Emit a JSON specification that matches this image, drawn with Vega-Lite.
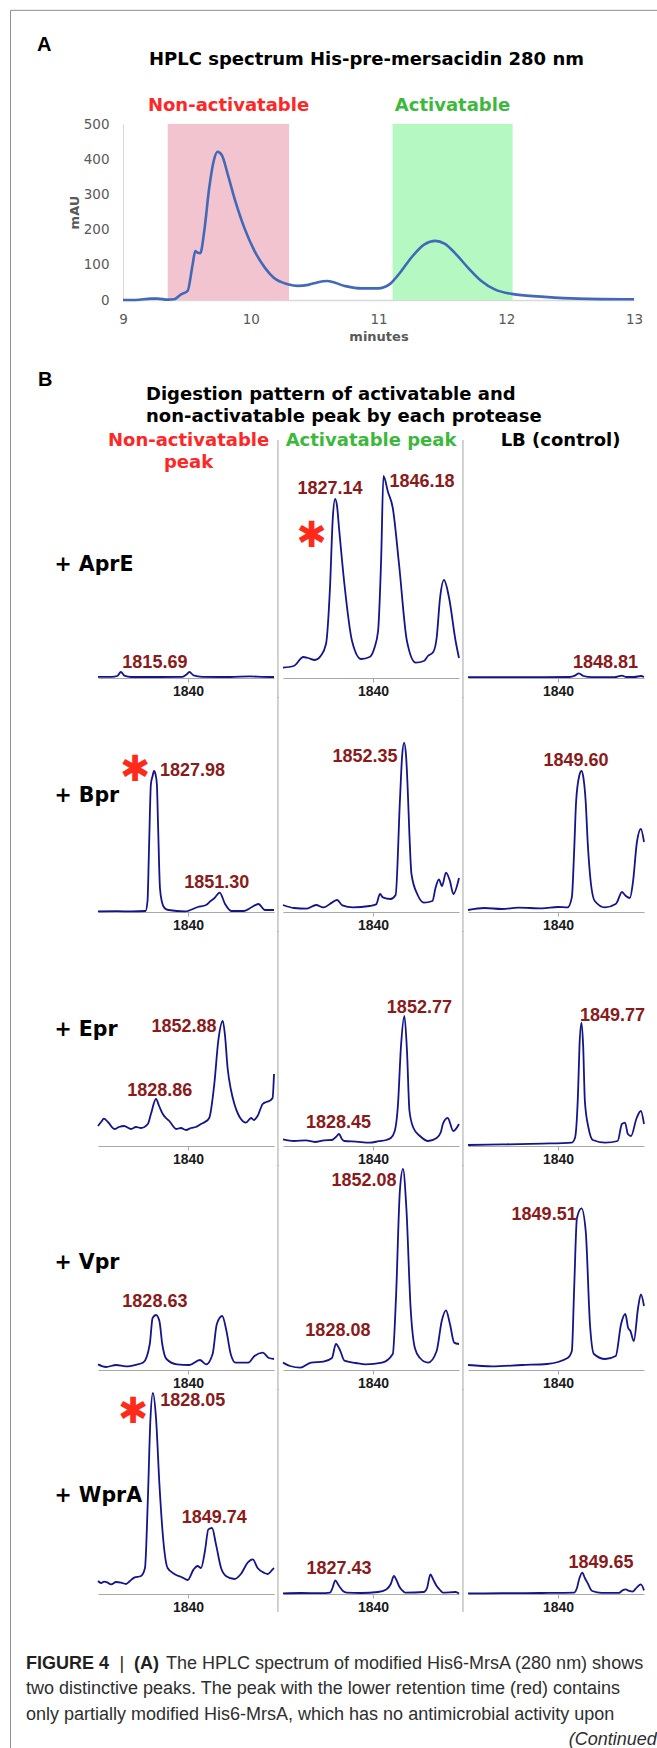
{
"$schema":"https://vega.github.io/schema/vega-lite/v6.json",
"usermeta":{"embedOptions":{"actions":false}},
"background":"white",
"padding":{"left":9,"top":9,"right":0,"bottom":0},
"autosize":{"type":"pad"},
"bounds":"flush",
"spacing":19,
"config":{"view":{"stroke":null},"axis":{"grid":false}},
"datasets":{
"hplc":[{"min":[9.0,9.1,9.22,9.27,9.35,9.4,9.454,9.506,9.545,9.566,9.584,9.605,9.636,9.675,9.71,9.74,9.773,9.82,9.871,9.95,10.03,10.11,10.18,10.29,10.37,10.45,10.52,10.6,10.735,10.865,10.996,11.088,11.126,11.178,11.256,11.36,11.445,11.517,11.597,11.7,11.805,11.91,12.066,12.3,12.56,13.0],
"mAU":[0,0,4,4,1,2,16,26,101,139,134,133,196,319,395,421,412,357,291,205,139,92,63,45,40,43,50,54,40,33,33,45,59,82,120,158,168,160,134,92,54,30,16,9,4,2]}],
"regions":[{"region":"Non-activatable","start":9.35,"end":10.3,"mid":9.826},{"region":"Activatable","start":11.11,"end":12.05,"mid":11.579}],
"ms":[
{"cell":"AN","mz":[1808.2,1813,1815,1816.3,1817.5,1820,1830,1838,1839.5,1840.5,1842,1845,1855,1862,1866,1870.4],"int":[0.6,0.6,1.0,3.0,1.2,0.5,0.5,0.6,1.8,3.0,1.3,0.6,0.5,0.8,0.6,0.5]},
{"cell":"AA","mz":[1808.2,1812,1815.4,1817,1819.5,1821.5,1823.4,1824.8,1825.8,1826.6,1827.3,1828.0,1829.9,1832.6,1835.8,1838.8,1840.5,1841.8,1842.9,1843.7,1845.3,1847.0,1849.2,1852.0,1855.1,1858.0,1859.4,1861.3,1862.5,1863.7,1865.1,1866.9,1869.2,1870.4],"int":[5.2,6,10.5,10,9,11,17,45,80,89.5,86,75,47,18.5,9.5,10.5,15,23.5,60,101,93,85,57,18.5,7.7,8.5,11,13,20,40,49,40,18.5,10]},
{"cell":"AL","mz":[1808.2,1830,1844,1846,1847.4,1849,1852,1860,1862.6,1864,1867,1869.3,1870.4],"int":[0.4,0.4,0.5,1.2,2.3,1.0,0.4,0.4,1.2,0.5,0.5,1.0,0.5]},
{"cell":"BN","mz":[1808.2,1815,1820,1825.0,1825.7,1826.2,1826.9,1827.5,1828.0,1828.5,1829.0,1829.4,1830.1,1830.8,1831.7,1833.1,1838.9,1843.5,1846.4,1848.0,1849.4,1851.2,1853.1,1855.3,1859.8,1862.6,1864.9,1867.2,1870.4],"int":[0.3,0.4,0.3,0.5,5.5,30,64,68,70.5,69,64,45,12,5,2,1,0.3,2.5,3.5,5.5,7,9.7,4,0.5,0.5,2.5,4,1,1]},
{"cell":"BA","mz":[1808.2,1812.1,1816.6,1819.9,1822.5,1825.5,1827.3,1829.2,1832.9,1838.8,1841.1,1842.5,1843.5,1846.2,1848.0,1849.5,1850.3,1851.0,1851.7,1852.2,1852.9,1853.6,1855.8,1858.0,1861.0,1862.1,1863.3,1864.4,1865.8,1867.2,1868.4,1870.4],"int":[3.5,2,1.7,3.5,2.3,4.7,6,3.3,2.3,3,3.8,9,7.3,6.5,8.5,55,78,84.7,78,64,38,19,8.5,4.7,5.5,12,16.3,13,19.7,15.5,9,17]},
{"cell":"BL","mz":[1808.2,1814,1820.2,1826,1834.4,1840,1843.4,1844.9,1845.7,1846.4,1847.5,1848.3,1849.1,1849.8,1850.5,1851.3,1853.0,1856.6,1860.4,1860.9,1862.6,1864.0,1865.4,1866.5,1867.9,1869.3,1870.4],"int":[1,2,1.5,2.2,1.8,2.5,2.3,7.3,30,55,68,70.5,66,55,35,19,5.5,2.3,4,5,10,8,7,15,35,41.5,35]},
{"cell":"EN","mz":[1808.2,1809.3,1810.3,1811.7,1814.0,1815.6,1817.4,1819.9,1821.6,1823.4,1825.8,1826.9,1828.7,1829.8,1831.1,1832.2,1833.4,1834.7,1835.8,1837.5,1839.3,1841.1,1842.8,1844.6,1846.0,1847.5,1849.3,1850.7,1852.3,1853.1,1854.0,1855.2,1856.4,1857.7,1858.7,1860.5,1862.3,1863.3,1864.6,1866.4,1867.6,1868.7,1869.9,1870.4],"int":[10,12,13.7,12,8.5,9.5,10,8.5,9.5,9,11,16,23.5,20,16,14,12.5,10,8.5,9,8,9,9.5,11,12,14,31,52.5,62.5,55,39,28,21,16,13.5,11.7,14,13,15,21,22,22.5,24,36]},
{"cell":"EA","mz":[1808.2,1812.1,1816.3,1819.5,1822.7,1825.5,1826.9,1828.0,1829.0,1829.9,1834.0,1838.8,1842.1,1844.7,1846.3,1847.7,1848.8,1849.9,1851.1,1852.0,1852.9,1854.3,1856.6,1859.5,1862.5,1864.0,1864.7,1866.4,1868.4,1870.4],"int":[3.3,2.5,2.8,2,2.8,3,4.5,6,3.5,2.5,2.2,1.7,2.4,3,4,7.5,20,50,65,48,17.5,9,5,2.5,4,7,11,14,7.5,11]},
{"cell":"EL","mz":[1808.2,1820.2,1834.4,1844.9,1846.0,1847.1,1847.6,1848.3,1848.9,1849.5,1850.8,1852.3,1856.7,1861.1,1862.6,1863.7,1864.7,1865.8,1867.8,1869.3,1870.4],"int":[0.5,0.8,1.2,1.7,4,27,50,61.7,50,22.5,9,3,1.7,2.5,11,11.7,6,5,14,17.5,11]},
{"cell":"VN","mz":[1808.2,1811.0,1814.6,1818.1,1821.6,1824.2,1826.5,1827.5,1828.7,1829.9,1830.9,1832.4,1836.1,1840.5,1844.2,1846.4,1848.7,1850.2,1852.1,1853.6,1855.1,1856.8,1861.3,1863.5,1866.4,1868.6,1870.4],"int":[2.8,1.5,2.5,1.8,2.6,3.7,13,26,27.5,24.5,13,5.5,2.8,2.5,5,2.8,8,23,27,19.5,8,3.7,3.7,7,8.7,6,5.5]},
{"cell":"VA","mz":[1808.2,1810.7,1814.4,1818.1,1822.5,1825.5,1826.9,1828.4,1829.9,1834.0,1837.4,1843.2,1847.0,1848.1,1849.5,1850.6,1851.8,1853.3,1854.8,1856.6,1859.5,1862.5,1864.3,1865.8,1867.2,1868.7,1870.4],"int":[3.7,2,1.2,3.7,4.2,6,13,9.7,4.7,3.5,2.8,3.7,8,35,89.5,100.5,81,31,11,6,3.7,9.5,24.5,29.8,23,13.7,13]},
{"cell":"VL","mz":[1808.2,1816.7,1827.3,1836.1,1843.4,1844.9,1845.7,1846.7,1848.3,1849.8,1851.3,1852.7,1856.7,1860.4,1862.3,1863.8,1864.8,1865.6,1866.8,1868.3,1869.3,1870.4],"int":[2.5,1.8,2.5,3,6,9.5,40,76,80.8,69.5,23,8,5.5,7,23,28,21,19.5,14.5,31,37.8,32]},
{"cell":"WN","mz":[1808.2,1809.3,1810.4,1811.6,1812.8,1814.6,1816.3,1818.1,1819.5,1821.0,1823.4,1824.8,1825.8,1826.7,1827.6,1828.7,1829.9,1831.3,1832.8,1835.2,1838.1,1839.9,1842.0,1843.4,1844.6,1846.0,1847.2,1848.5,1849.9,1851.7,1853.4,1856.4,1858.7,1861.1,1862.9,1864.6,1867.0,1868.2,1869.9,1870.4],"int":[6.5,5.5,6.2,5.7,4.8,6,5.7,5,6.5,8.2,9,13,46.5,86.5,100.5,88,55,26.5,13,10,8.2,7,12.3,14,13,21.5,32.3,33,24.8,13,9,7.5,10,15.7,17.3,13,10.5,10,12.3,13]},
{"cell":"WA","mz":[1808.2,1814.6,1821.6,1824.8,1825.7,1826.7,1827.6,1828.4,1829.4,1830.7,1835.8,1841.8,1844.7,1846.3,1847.4,1848.3,1849.2,1850.2,1851.4,1858.0,1859.1,1860.3,1861.2,1862.5,1863.7,1864.7,1869.2,1870.4],"int":[0.3,0.5,0.4,0.7,3,6.8,5,3.2,1.5,0.7,0.5,1,2.3,5,9,7,4,2,0.7,1,3,9.8,7.5,4,2,0.7,1,0.3]},
{"cell":"WL","mz":[1808.2,1820.2,1834.4,1845.7,1846.7,1847.6,1848.6,1849.5,1850.4,1852.1,1855.5,1861.6,1862.8,1863.9,1865.1,1866.3,1867.8,1869.3,1870.4],"int":[0.3,0.4,0.5,0.7,3,8,10.7,8,5.7,1.5,0.6,0.6,1.8,2.3,1.6,1.2,3.2,4.8,1.8]}
],
"peaks":[
{"cell":"AN","mz":1828.3,"int":7.5,"label":"1815.69"},
{"cell":"AA","mz":1824.8,"int":94.5,"label":"1827.14"},
{"cell":"AA","mz":1857.3,"int":98,"label":"1846.18"},
{"cell":"AL","mz":1856.8,"int":7.5,"label":"1848.81"},
{"cell":"BN","mz":1841.6,"int":70.5,"label":"1827.98"},
{"cell":"BN","mz":1850.2,"int":14.7,"label":"1851.30"},
{"cell":"BA","mz":1837.2,"int":77.5,"label":"1852.35"},
{"cell":"BL","mz":1846.4,"int":75.5,"label":"1849.60"},
{"cell":"EN","mz":1830.0,"int":27.5,"label":"1828.86"},
{"cell":"EN","mz":1838.6,"int":59.5,"label":"1852.88"},
{"cell":"EA","mz":1856.4,"int":69,"label":"1852.77"},
{"cell":"EA","mz":1827.8,"int":11.3,"label":"1828.45"},
{"cell":"EL","mz":1859.3,"int":65,"label":"1849.77"},
{"cell":"VN","mz":1828.3,"int":34,"label":"1828.63"},
{"cell":"VA","mz":1836.8,"int":94.5,"label":"1852.08"},
{"cell":"VA","mz":1827.6,"int":19.5,"label":"1828.08"},
{"cell":"VL","mz":1835.1,"int":77.5,"label":"1849.51"},
{"cell":"WN","mz":1841.7,"int":96.5,"label":"1828.05"},
{"cell":"WN","mz":1849.3,"int":37.8,"label":"1849.74"},
{"cell":"WA","mz":1828.0,"int":12.3,"label":"1827.43"},
{"cell":"WL","mz":1855.2,"int":15.7,"label":"1849.65"}
],
"stars":[{"cell":"AA","mz":1818.3,"int":71},{"cell":"BN","mz":1821.3,"int":71},{"cell":"WN","mz":1820.6,"int":91}]
},
"vconcat":[
{"width":546,"height":176,
 "title":{"text":"HPLC spectrum His-pre-mersacidin 280 nm","font":"DejaVu Sans","fontWeight":"bold","fontSize":18,"color":"#000","anchor":"middle","frame":"group","dx":-4.5,"offset":-34,"limit":1000},
 "layer":[
  {"data":{"name":"regions"},"mark":{"type":"rect"},
   "encoding":{
    "x":{"field":"start","type":"quantitative","scale":{"domain":[9,13],"range":[25,536],"nice":false,"zero":false},
     "axis":{"values":[9,10,11,12,13],"format":"d","labelOverlap":false,"title":"minutes","titleFont":"DejaVu Sans","titleFontWeight":"bold","titleFontSize":13,"titleColor":"#595959","titlePadding":4,"labelFont":"DejaVu Sans","labelFontSize":13.5,"labelColor":"#595959","labelPadding":12.5,"ticks":false,"tickSize":0,"domainColor":"#d9d9d9","domainWidth":1.5,"labelFlush":false,"grid":false}},
    "x2":{"field":"end"},
    "y":{"datum":0,"type":"quantitative","scale":{"domain":[0,500],"nice":false},
     "axis":{"values":[0,100,200,300,400,500],"tickCount":6,"format":"d","labelOverlap":false,"offset":-25,"title":"mAU","titleFont":"DejaVu Sans","titleFontWeight":"bold","titleFontSize":13,"titleColor":"#595959","titlePadding":2,"labelFont":"DejaVu Sans","labelFontSize":13.5,"labelColor":"#595959","labelPadding":14,"ticks":false,"tickSize":0,"domainColor":"#d9d9d9","labelFlush":false,"grid":false}},
    "y2":{"datum":500},
    "color":{"field":"region","type":"nominal","scale":{"domain":["Non-activatable","Activatable"],"range":["#f2c4cf","#b6f8c2"]},"legend":null}}},
  {"data":{"name":"regions"},"transform":[{"filter":"datum.region==='Non-activatable'"}],
   "mark":{"type":"text","font":"DejaVu Sans","fontWeight":"bold","fontSize":18,"color":"#ff2626","dy":-13,"baseline":"alphabetic","align":"center","clip":false},
   "encoding":{"x":{"field":"mid","type":"quantitative"},"y":{"datum":500},"text":{"field":"region","type":"nominal"}}},
  {"data":{"name":"regions"},"transform":[{"filter":"datum.region==='Activatable'"}],
   "mark":{"type":"text","font":"DejaVu Sans","fontWeight":"bold","fontSize":18,"color":"#3cb93c","dy":-13,"baseline":"alphabetic","align":"center","clip":false},
   "encoding":{"x":{"field":"mid","type":"quantitative"},"y":{"datum":500},"text":{"field":"region","type":"nominal"}}},
  {"data":{"values":[{}]},"mark":{"type":"text","text":"A","font":"Liberation Sans","fontWeight":"bold","fontSize":20,"color":"#000","align":"left","baseline":"alphabetic","clip":false},
   "encoding":{"x":{"datum":8.327},"y":{"datum":707.4}}},
  {"data":{"name":"hplc"},"transform":[{"flatten":["min","mAU"]}],
   "mark":{"type":"line","color":"#4169b8","strokeWidth":2.6,"interpolate":"monotone"},
   "encoding":{
    "x":{"field":"min","type":"quantitative","scale":{"domain":[9,13],"range":[25,536],"nice":false,"zero":false},
     "axis":{"values":[9,10,11,12,13],"format":"d","labelOverlap":false,"title":"minutes","titleFont":"DejaVu Sans","titleFontWeight":"bold","titleFontSize":13,"titleColor":"#595959","titlePadding":4,"labelFont":"DejaVu Sans","labelFontSize":13.5,"labelColor":"#595959","labelPadding":12.5,"ticks":false,"tickSize":0,"domainColor":"#d9d9d9","domainWidth":1.5,"labelFlush":false,"grid":false}},
    "y":{"field":"mAU","type":"quantitative","scale":{"domain":[0,500],"nice":false},
     "axis":{"values":[0,100,200,300,400,500],"tickCount":6,"format":"d","labelOverlap":false,"offset":-25,"title":"mAU","titleFont":"DejaVu Sans","titleFontWeight":"bold","titleFontSize":13,"titleColor":"#595959","titlePadding":2,"labelFont":"DejaVu Sans","labelFontSize":13.5,"labelColor":"#595959","labelPadding":14,"ticks":false,"tickSize":0,"domainColor":"#d9d9d9","labelFlush":false,"grid":false}}}}
 ]},
{"width":546,"height":359,
 "resolve":{"scale":{"x":"independent"},"axis":{"x":"independent"}},
 "layer":[
  {"layer":[
   {"data":{"name":"ms"},"transform":[{"filter":"datum.cell==='AN'"},{"flatten":["mz","int"]}],"mark":{"type":"line","color":"#14148c","strokeWidth":1.8,"interpolate":"monotone"},
    "encoding":{"x":{"field":"mz","type":"quantitative","scale":{"domain":[1808.2,1870.4],"range":[0,176],"nice":false,"zero":false},"axis":{"orient":"bottom","values":[1840],"format":"d","title":null,"grid":false,"domainColor":"#a8a8a8","tickColor":"#a8a8a8","tickSize":4,"labelFont":"Liberation Sans","labelFontWeight":"bold","labelFontSize":14,"labelColor":"#1a1a1a","labelPadding":2}},
     "y":{"field":"int","type":"quantitative","scale":{"domain":[0,107.5],"range":[359,144],"nice":false,"zero":false},"axis":{"title":"+ AprE","domain":false,"ticks":false,"labels":false,"grid":false,"titleAngle":0,"titleAlign":"left","titleBaseline":"middle","titleX":-44,"titleY":245,"titleFont":"DejaVu Sans","titleFontWeight":"bold","titleFontSize":20.5,"titleColor":"#000","titleLimit":1000}}}},
   {"data":{"name":"peaks"},"transform":[{"filter":"datum.cell==='AN'"}],"mark":{"type":"text","font":"Liberation Sans","fontWeight":"bold","fontSize":18,"color":"#8b1a1a","align":"center","baseline":"middle","clip":false},
    "encoding":{"x":{"field":"mz","type":"quantitative"},"y":{"field":"int","type":"quantitative"},"text":{"field":"label","type":"nominal"}}},
   {"data":{"values":[{}]},"mark":{"type":"rule","color":"#a6a6a6","strokeWidth":1,"clip":false},"encoding":{"x":{"datum":1871.8},"y":{"datum":-10},"y2":{"datum":119}}},
   {"data":{"values":[{}]},"mark":{"type":"text","text":["Non-activatable","peak"],"font":"DejaVu Sans","fontWeight":"bold","fontSize":18,"lineHeight":21.5,"color":"#ff2626","align":"center","baseline":"alphabetic","clip":false},
    "encoding":{"x":{"datum":1840.2},"y":{"datum":116}}},
   {"data":{"values":[{}]},"mark":{"type":"text","text":"B","font":"Liberation Sans","fontWeight":"bold","fontSize":20,"color":"#000","align":"left","baseline":"alphabetic","clip":false},
    "encoding":{"x":{"datum":1787.0},"y":{"datum":146}}},
   {"data":{"values":[{}]},"mark":{"type":"text","text":["Digestion pattern of activatable and","non-activatable peak by each protease"],"font":"DejaVu Sans","fontWeight":"bold","fontSize":18,"lineHeight":22,"color":"#000","align":"left","baseline":"alphabetic","clip":false},
    "encoding":{"x":{"datum":1825.16},"y":{"datum":139}}}
  ]},
  {"layer":[
   {"data":{"name":"ms"},"transform":[{"filter":"datum.cell==='AA'"},{"flatten":["mz","int"]}],"mark":{"type":"line","color":"#14148c","strokeWidth":1.8,"interpolate":"monotone"},
    "encoding":{"x":{"field":"mz","type":"quantitative","scale":{"domain":[1808.2,1870.4],"range":[185,361],"nice":false,"zero":false},"axis":{"orient":"bottom","values":[1840],"format":"d","title":null,"grid":false,"domainColor":"#a8a8a8","tickColor":"#a8a8a8","tickSize":4,"labelFont":"Liberation Sans","labelFontWeight":"bold","labelFontSize":14,"labelColor":"#1a1a1a","labelPadding":2}},
     "y":{"field":"int","type":"quantitative","scale":{"domain":[0,107.5],"range":[359,144],"nice":false,"zero":false}}}},
   {"data":{"name":"peaks"},"transform":[{"filter":"datum.cell==='AA'"}],"mark":{"type":"text","font":"Liberation Sans","fontWeight":"bold","fontSize":18,"color":"#8b1a1a","align":"center","baseline":"middle","clip":false},
    "encoding":{"x":{"field":"mz","type":"quantitative"},"y":{"field":"int","type":"quantitative"},"text":{"field":"label","type":"nominal"}}},
   {"data":{"name":"stars"},"transform":[{"filter":"datum.cell==='AA'"}],"mark":{"type":"text","text":"✱","font":"DejaVu Sans","fontSize":36,"color":"#ff2a1a","align":"center","baseline":"middle","clip":false},
    "encoding":{"x":{"field":"mz","type":"quantitative"},"y":{"field":"int","type":"quantitative"}}},
   {"data":{"values":[{}]},"mark":{"type":"rule","color":"#a6a6a6","strokeWidth":1,"clip":false},"encoding":{"x":{"datum":1871.8},"y":{"datum":-10},"y2":{"datum":119}}},
   {"data":{"values":[{}]},"mark":{"type":"text","text":"Activatable peak","font":"DejaVu Sans","fontWeight":"bold","fontSize":18,"color":"#3cb93c","align":"center","baseline":"alphabetic","clip":false},
    "encoding":{"x":{"datum":1839.3},"y":{"datum":116}}}
  ]},
  {"layer":[
   {"data":{"name":"ms"},"transform":[{"filter":"datum.cell==='AL'"},{"flatten":["mz","int"]}],"mark":{"type":"line","color":"#14148c","strokeWidth":1.8,"interpolate":"monotone"},
    "encoding":{"x":{"field":"mz","type":"quantitative","scale":{"domain":[1808.2,1870.4],"range":[370,546],"nice":false,"zero":false},"axis":{"orient":"bottom","values":[1840],"format":"d","title":null,"grid":false,"domainColor":"#a8a8a8","tickColor":"#a8a8a8","tickSize":4,"labelFont":"Liberation Sans","labelFontWeight":"bold","labelFontSize":14,"labelColor":"#1a1a1a","labelPadding":2}},
     "y":{"field":"int","type":"quantitative","scale":{"domain":[0,107.5],"range":[359,144],"nice":false,"zero":false}}}},
   {"data":{"name":"peaks"},"transform":[{"filter":"datum.cell==='AL'"}],"mark":{"type":"text","font":"Liberation Sans","fontWeight":"bold","fontSize":18,"color":"#8b1a1a","align":"center","baseline":"middle","clip":false},
    "encoding":{"x":{"field":"mz","type":"quantitative"},"y":{"field":"int","type":"quantitative"},"text":{"field":"label","type":"nominal"}}},
   {"data":{"values":[{}]},"mark":{"type":"text","text":"LB (control)","font":"DejaVu Sans","fontWeight":"bold","fontSize":18,"color":"#000","align":"center","baseline":"alphabetic","clip":false},
    "encoding":{"x":{"datum":1840.9},"y":{"datum":116}}}
  ]}
 ]},
{"width":546,"height":215,
 "resolve":{"scale":{"x":"independent"},"axis":{"x":"independent"}},
 "layer":[
  {"layer":[
   {"data":{"name":"ms"},"transform":[{"filter":"datum.cell==='BN'"},{"flatten":["mz","int"]}],"mark":{"type":"line","color":"#14148c","strokeWidth":1.8,"interpolate":"monotone"},
    "encoding":{"x":{"field":"mz","type":"quantitative","scale":{"domain":[1808.2,1870.4],"range":[0,176],"nice":false,"zero":false},"axis":{"orient":"bottom","values":[1840],"format":"d","title":null,"grid":false,"domainColor":"#a8a8a8","tickColor":"#a8a8a8","tickSize":4,"labelFont":"Liberation Sans","labelFontWeight":"bold","labelFontSize":14,"labelColor":"#1a1a1a","labelPadding":2}},
     "y":{"field":"int","type":"quantitative","scale":{"domain":[0,107.5],"nice":false,"zero":false},"axis":{"title":"+ Bpr","domain":false,"ticks":false,"labels":false,"grid":false,"titleAngle":0,"titleAlign":"left","titleBaseline":"middle","titleX":-44,"titleY":98,"titleFont":"DejaVu Sans","titleFontWeight":"bold","titleFontSize":20.5,"titleColor":"#000","titleLimit":1000}}}},
   {"data":{"name":"peaks"},"transform":[{"filter":"datum.cell==='BN'"}],"mark":{"type":"text","font":"Liberation Sans","fontWeight":"bold","fontSize":18,"color":"#8b1a1a","align":"center","baseline":"middle","clip":false},
    "encoding":{"x":{"field":"mz","type":"quantitative"},"y":{"field":"int","type":"quantitative"},"text":{"field":"label","type":"nominal"}}},
   {"data":{"name":"stars"},"transform":[{"filter":"datum.cell==='BN'"}],"mark":{"type":"text","text":"✱","font":"DejaVu Sans","fontSize":36,"color":"#ff2a1a","align":"center","baseline":"middle","clip":false},
    "encoding":{"x":{"field":"mz","type":"quantitative"},"y":{"field":"int","type":"quantitative"}}},
   {"data":{"values":[{}]},"mark":{"type":"rule","color":"#a6a6a6","strokeWidth":1,"clip":false},"encoding":{"x":{"datum":1871.8},"y":{"datum":-10},"y2":{"datum":107.5}}}
  ]},
  {"layer":[
   {"data":{"name":"ms"},"transform":[{"filter":"datum.cell==='BA'"},{"flatten":["mz","int"]}],"mark":{"type":"line","color":"#14148c","strokeWidth":1.8,"interpolate":"monotone"},
    "encoding":{"x":{"field":"mz","type":"quantitative","scale":{"domain":[1808.2,1870.4],"range":[185,361],"nice":false,"zero":false},"axis":{"orient":"bottom","values":[1840],"format":"d","title":null,"grid":false,"domainColor":"#a8a8a8","tickColor":"#a8a8a8","tickSize":4,"labelFont":"Liberation Sans","labelFontWeight":"bold","labelFontSize":14,"labelColor":"#1a1a1a","labelPadding":2}},
     "y":{"field":"int","type":"quantitative","scale":{"domain":[0,107.5],"nice":false,"zero":false}}}},
   {"data":{"name":"peaks"},"transform":[{"filter":"datum.cell==='BA'"}],"mark":{"type":"text","font":"Liberation Sans","fontWeight":"bold","fontSize":18,"color":"#8b1a1a","align":"center","baseline":"middle","clip":false},
    "encoding":{"x":{"field":"mz","type":"quantitative"},"y":{"field":"int","type":"quantitative"},"text":{"field":"label","type":"nominal"}}},
   {"data":{"values":[{}]},"mark":{"type":"rule","color":"#a6a6a6","strokeWidth":1,"clip":false},"encoding":{"x":{"datum":1871.8},"y":{"datum":-10},"y2":{"datum":107.5}}}
  ]},
  {"layer":[
   {"data":{"name":"ms"},"transform":[{"filter":"datum.cell==='BL'"},{"flatten":["mz","int"]}],"mark":{"type":"line","color":"#14148c","strokeWidth":1.8,"interpolate":"monotone"},
    "encoding":{"x":{"field":"mz","type":"quantitative","scale":{"domain":[1808.2,1870.4],"range":[370,546],"nice":false,"zero":false},"axis":{"orient":"bottom","values":[1840],"format":"d","title":null,"grid":false,"domainColor":"#a8a8a8","tickColor":"#a8a8a8","tickSize":4,"labelFont":"Liberation Sans","labelFontWeight":"bold","labelFontSize":14,"labelColor":"#1a1a1a","labelPadding":2}},
     "y":{"field":"int","type":"quantitative","scale":{"domain":[0,107.5],"nice":false,"zero":false}}}},
   {"data":{"name":"peaks"},"transform":[{"filter":"datum.cell==='BL'"}],"mark":{"type":"text","font":"Liberation Sans","fontWeight":"bold","fontSize":18,"color":"#8b1a1a","align":"center","baseline":"middle","clip":false},
    "encoding":{"x":{"field":"mz","type":"quantitative"},"y":{"field":"int","type":"quantitative"},"text":{"field":"label","type":"nominal"}}}
  ]}
 ]},
{"width":546,"height":215,
 "resolve":{"scale":{"x":"independent"},"axis":{"x":"independent"}},
 "layer":[
  {"layer":[
   {"data":{"name":"ms"},"transform":[{"filter":"datum.cell==='EN'"},{"flatten":["mz","int"]}],"mark":{"type":"line","color":"#14148c","strokeWidth":1.8,"interpolate":"monotone"},
    "encoding":{"x":{"field":"mz","type":"quantitative","scale":{"domain":[1808.2,1870.4],"range":[0,176],"nice":false,"zero":false},"axis":{"orient":"bottom","values":[1840],"format":"d","title":null,"grid":false,"domainColor":"#a8a8a8","tickColor":"#a8a8a8","tickSize":4,"labelFont":"Liberation Sans","labelFontWeight":"bold","labelFontSize":14,"labelColor":"#1a1a1a","labelPadding":2}},
     "y":{"field":"int","type":"quantitative","scale":{"domain":[0,107.5],"nice":false,"zero":false},"axis":{"title":"+ Epr","domain":false,"ticks":false,"labels":false,"grid":false,"titleAngle":0,"titleAlign":"left","titleBaseline":"middle","titleX":-44,"titleY":98,"titleFont":"DejaVu Sans","titleFontWeight":"bold","titleFontSize":20.5,"titleColor":"#000","titleLimit":1000}}}},
   {"data":{"name":"peaks"},"transform":[{"filter":"datum.cell==='EN'"}],"mark":{"type":"text","font":"Liberation Sans","fontWeight":"bold","fontSize":18,"color":"#8b1a1a","align":"center","baseline":"middle","clip":false},
    "encoding":{"x":{"field":"mz","type":"quantitative"},"y":{"field":"int","type":"quantitative"},"text":{"field":"label","type":"nominal"}}},
   {"data":{"values":[{}]},"mark":{"type":"rule","color":"#a6a6a6","strokeWidth":1,"clip":false},"encoding":{"x":{"datum":1871.8},"y":{"datum":-10},"y2":{"datum":107.5}}}
  ]},
  {"layer":[
   {"data":{"name":"ms"},"transform":[{"filter":"datum.cell==='EA'"},{"flatten":["mz","int"]}],"mark":{"type":"line","color":"#14148c","strokeWidth":1.8,"interpolate":"monotone"},
    "encoding":{"x":{"field":"mz","type":"quantitative","scale":{"domain":[1808.2,1870.4],"range":[185,361],"nice":false,"zero":false},"axis":{"orient":"bottom","values":[1840],"format":"d","title":null,"grid":false,"domainColor":"#a8a8a8","tickColor":"#a8a8a8","tickSize":4,"labelFont":"Liberation Sans","labelFontWeight":"bold","labelFontSize":14,"labelColor":"#1a1a1a","labelPadding":2}},
     "y":{"field":"int","type":"quantitative","scale":{"domain":[0,107.5],"nice":false,"zero":false}}}},
   {"data":{"name":"peaks"},"transform":[{"filter":"datum.cell==='EA'"}],"mark":{"type":"text","font":"Liberation Sans","fontWeight":"bold","fontSize":18,"color":"#8b1a1a","align":"center","baseline":"middle","clip":false},
    "encoding":{"x":{"field":"mz","type":"quantitative"},"y":{"field":"int","type":"quantitative"},"text":{"field":"label","type":"nominal"}}},
   {"data":{"values":[{}]},"mark":{"type":"rule","color":"#a6a6a6","strokeWidth":1,"clip":false},"encoding":{"x":{"datum":1871.8},"y":{"datum":-10},"y2":{"datum":107.5}}}
  ]},
  {"layer":[
   {"data":{"name":"ms"},"transform":[{"filter":"datum.cell==='EL'"},{"flatten":["mz","int"]}],"mark":{"type":"line","color":"#14148c","strokeWidth":1.8,"interpolate":"monotone"},
    "encoding":{"x":{"field":"mz","type":"quantitative","scale":{"domain":[1808.2,1870.4],"range":[370,546],"nice":false,"zero":false},"axis":{"orient":"bottom","values":[1840],"format":"d","title":null,"grid":false,"domainColor":"#a8a8a8","tickColor":"#a8a8a8","tickSize":4,"labelFont":"Liberation Sans","labelFontWeight":"bold","labelFontSize":14,"labelColor":"#1a1a1a","labelPadding":2}},
     "y":{"field":"int","type":"quantitative","scale":{"domain":[0,107.5],"nice":false,"zero":false}}}},
   {"data":{"name":"peaks"},"transform":[{"filter":"datum.cell==='EL'"}],"mark":{"type":"text","font":"Liberation Sans","fontWeight":"bold","fontSize":18,"color":"#8b1a1a","align":"center","baseline":"middle","clip":false},
    "encoding":{"x":{"field":"mz","type":"quantitative"},"y":{"field":"int","type":"quantitative"},"text":{"field":"label","type":"nominal"}}}
  ]}
 ]},
{"width":546,"height":205,
 "resolve":{"scale":{"x":"independent"},"axis":{"x":"independent"}},
 "layer":[
  {"layer":[
   {"data":{"name":"ms"},"transform":[{"filter":"datum.cell==='VN'"},{"flatten":["mz","int"]}],"mark":{"type":"line","color":"#14148c","strokeWidth":1.8,"interpolate":"monotone"},
    "encoding":{"x":{"field":"mz","type":"quantitative","scale":{"domain":[1808.2,1870.4],"range":[0,176],"nice":false,"zero":false},"axis":{"orient":"bottom","values":[1840],"format":"d","title":null,"grid":false,"domainColor":"#a8a8a8","tickColor":"#a8a8a8","tickSize":4,"labelFont":"Liberation Sans","labelFontWeight":"bold","labelFontSize":14,"labelColor":"#1a1a1a","labelPadding":2}},
     "y":{"field":"int","type":"quantitative","scale":{"domain":[0,102.5],"nice":false,"zero":false},"axis":{"title":"+ Vpr","domain":false,"ticks":false,"labels":false,"grid":false,"titleAngle":0,"titleAlign":"left","titleBaseline":"middle","titleX":-44,"titleY":97,"titleFont":"DejaVu Sans","titleFontWeight":"bold","titleFontSize":20.5,"titleColor":"#000","titleLimit":1000}}}},
   {"data":{"name":"peaks"},"transform":[{"filter":"datum.cell==='VN'"}],"mark":{"type":"text","font":"Liberation Sans","fontWeight":"bold","fontSize":18,"color":"#8b1a1a","align":"center","baseline":"middle","clip":false},
    "encoding":{"x":{"field":"mz","type":"quantitative"},"y":{"field":"int","type":"quantitative"},"text":{"field":"label","type":"nominal"}}},
   {"data":{"values":[{}]},"mark":{"type":"rule","color":"#a6a6a6","strokeWidth":1,"clip":false},"encoding":{"x":{"datum":1871.8},"y":{"datum":-10},"y2":{"datum":102.5}}}
  ]},
  {"layer":[
   {"data":{"name":"ms"},"transform":[{"filter":"datum.cell==='VA'"},{"flatten":["mz","int"]}],"mark":{"type":"line","color":"#14148c","strokeWidth":1.8,"interpolate":"monotone"},
    "encoding":{"x":{"field":"mz","type":"quantitative","scale":{"domain":[1808.2,1870.4],"range":[185,361],"nice":false,"zero":false},"axis":{"orient":"bottom","values":[1840],"format":"d","title":null,"grid":false,"domainColor":"#a8a8a8","tickColor":"#a8a8a8","tickSize":4,"labelFont":"Liberation Sans","labelFontWeight":"bold","labelFontSize":14,"labelColor":"#1a1a1a","labelPadding":2}},
     "y":{"field":"int","type":"quantitative","scale":{"domain":[0,102.5],"nice":false,"zero":false}}}},
   {"data":{"name":"peaks"},"transform":[{"filter":"datum.cell==='VA'"}],"mark":{"type":"text","font":"Liberation Sans","fontWeight":"bold","fontSize":18,"color":"#8b1a1a","align":"center","baseline":"middle","clip":false},
    "encoding":{"x":{"field":"mz","type":"quantitative"},"y":{"field":"int","type":"quantitative"},"text":{"field":"label","type":"nominal"}}},
   {"data":{"values":[{}]},"mark":{"type":"rule","color":"#a6a6a6","strokeWidth":1,"clip":false},"encoding":{"x":{"datum":1871.8},"y":{"datum":-10},"y2":{"datum":102.5}}}
  ]},
  {"layer":[
   {"data":{"name":"ms"},"transform":[{"filter":"datum.cell==='VL'"},{"flatten":["mz","int"]}],"mark":{"type":"line","color":"#14148c","strokeWidth":1.8,"interpolate":"monotone"},
    "encoding":{"x":{"field":"mz","type":"quantitative","scale":{"domain":[1808.2,1870.4],"range":[370,546],"nice":false,"zero":false},"axis":{"orient":"bottom","values":[1840],"format":"d","title":null,"grid":false,"domainColor":"#a8a8a8","tickColor":"#a8a8a8","tickSize":4,"labelFont":"Liberation Sans","labelFontWeight":"bold","labelFontSize":14,"labelColor":"#1a1a1a","labelPadding":2}},
     "y":{"field":"int","type":"quantitative","scale":{"domain":[0,102.5],"nice":false,"zero":false}}}},
   {"data":{"name":"peaks"},"transform":[{"filter":"datum.cell==='VL'"}],"mark":{"type":"text","font":"Liberation Sans","fontWeight":"bold","fontSize":18,"color":"#8b1a1a","align":"center","baseline":"middle","clip":false},
    "encoding":{"x":{"field":"mz","type":"quantitative"},"y":{"field":"int","type":"quantitative"},"text":{"field":"label","type":"nominal"}}}
  ]}
 ]},
{"width":546,"height":205,
 "resolve":{"scale":{"x":"independent"},"axis":{"x":"independent"}},
 "layer":[
  {"layer":[
   {"data":{"name":"ms"},"transform":[{"filter":"datum.cell==='WN'"},{"flatten":["mz","int"]}],"mark":{"type":"line","color":"#14148c","strokeWidth":1.8,"interpolate":"monotone"},
    "encoding":{"x":{"field":"mz","type":"quantitative","scale":{"domain":[1808.2,1870.4],"range":[0,176],"nice":false,"zero":false},"axis":{"orient":"bottom","values":[1840],"format":"d","title":null,"grid":false,"domainColor":"#a8a8a8","tickColor":"#a8a8a8","tickSize":4,"labelFont":"Liberation Sans","labelFontWeight":"bold","labelFontSize":14,"labelColor":"#1a1a1a","labelPadding":2}},
     "y":{"field":"int","type":"quantitative","scale":{"domain":[0,102.5],"nice":false,"zero":false},"axis":{"title":"+ WprA","domain":false,"ticks":false,"labels":false,"grid":false,"titleAngle":0,"titleAlign":"left","titleBaseline":"middle","titleX":-44,"titleY":106,"titleFont":"DejaVu Sans","titleFontWeight":"bold","titleFontSize":20.5,"titleColor":"#000","titleLimit":1000}}}},
   {"data":{"name":"peaks"},"transform":[{"filter":"datum.cell==='WN'"}],"mark":{"type":"text","font":"Liberation Sans","fontWeight":"bold","fontSize":18,"color":"#8b1a1a","align":"center","baseline":"middle","clip":false},
    "encoding":{"x":{"field":"mz","type":"quantitative"},"y":{"field":"int","type":"quantitative"},"text":{"field":"label","type":"nominal"}}},
   {"data":{"name":"stars"},"transform":[{"filter":"datum.cell==='WN'"}],"mark":{"type":"text","text":"✱","font":"DejaVu Sans","fontSize":36,"color":"#ff2a1a","align":"center","baseline":"middle","clip":false},
    "encoding":{"x":{"field":"mz","type":"quantitative"},"y":{"field":"int","type":"quantitative"}}},
   {"data":{"values":[{}]},"mark":{"type":"rule","color":"#a6a6a6","strokeWidth":1,"clip":false},"encoding":{"x":{"datum":1871.8},"y":{"datum":-9},"y2":{"datum":102.5}}}
  ]},
  {"layer":[
   {"data":{"name":"ms"},"transform":[{"filter":"datum.cell==='WA'"},{"flatten":["mz","int"]}],"mark":{"type":"line","color":"#14148c","strokeWidth":1.8,"interpolate":"monotone"},
    "encoding":{"x":{"field":"mz","type":"quantitative","scale":{"domain":[1808.2,1870.4],"range":[185,361],"nice":false,"zero":false},"axis":{"orient":"bottom","values":[1840],"format":"d","title":null,"grid":false,"domainColor":"#a8a8a8","tickColor":"#a8a8a8","tickSize":4,"labelFont":"Liberation Sans","labelFontWeight":"bold","labelFontSize":14,"labelColor":"#1a1a1a","labelPadding":2}},
     "y":{"field":"int","type":"quantitative","scale":{"domain":[0,102.5],"nice":false,"zero":false}}}},
   {"data":{"name":"peaks"},"transform":[{"filter":"datum.cell==='WA'"}],"mark":{"type":"text","font":"Liberation Sans","fontWeight":"bold","fontSize":18,"color":"#8b1a1a","align":"center","baseline":"middle","clip":false},
    "encoding":{"x":{"field":"mz","type":"quantitative"},"y":{"field":"int","type":"quantitative"},"text":{"field":"label","type":"nominal"}}},
   {"data":{"values":[{}]},"mark":{"type":"rule","color":"#a6a6a6","strokeWidth":1,"clip":false},"encoding":{"x":{"datum":1871.8},"y":{"datum":-9},"y2":{"datum":102.5}}}
  ]},
  {"layer":[
   {"data":{"name":"ms"},"transform":[{"filter":"datum.cell==='WL'"},{"flatten":["mz","int"]}],"mark":{"type":"line","color":"#14148c","strokeWidth":1.8,"interpolate":"monotone"},
    "encoding":{"x":{"field":"mz","type":"quantitative","scale":{"domain":[1808.2,1870.4],"range":[370,546],"nice":false,"zero":false},"axis":{"orient":"bottom","values":[1840],"format":"d","title":null,"grid":false,"domainColor":"#a8a8a8","tickColor":"#a8a8a8","tickSize":4,"labelFont":"Liberation Sans","labelFontWeight":"bold","labelFontSize":14,"labelColor":"#1a1a1a","labelPadding":2}},
     "y":{"field":"int","type":"quantitative","scale":{"domain":[0,102.5],"nice":false,"zero":false}}}},
   {"data":{"name":"peaks"},"transform":[{"filter":"datum.cell==='WL'"}],"mark":{"type":"text","font":"Liberation Sans","fontWeight":"bold","fontSize":18,"color":"#8b1a1a","align":"center","baseline":"middle","clip":false},
    "encoding":{"x":{"field":"mz","type":"quantitative"},"y":{"field":"int","type":"quantitative"},"text":{"field":"label","type":"nominal"}}}
  ]}
 ]},
{"width":546,"height":136,
 "layer":[
  {"data":{"values":[{}]},"mark":{"type":"rule","color":"#8f8f8f","strokeWidth":1,"clip":false},
   "encoding":{"x":{"datum":-0.16026,"scale":{"domain":[0,1],"nice":false,"zero":false},"axis":null},"y":{"datum":-65.09,"scale":{"domain":[-1.243,4.175],"reverse":true,"nice":false,"zero":false},"axis":null},"y2":{"datum":4.155}}},
  {"data":{"values":[{}]},"mark":{"type":"rule","color":"#8f8f8f","strokeWidth":1,"clip":false},
   "encoding":{"x":{"datum":-0.16026,"axis":null},"x2":{"datum":1.0238},"y":{"datum":-65.09,"axis":null}}},
  {"data":{"values":[{"line":1,"text":"FIGURE 4"}]},"mark":{"type":"text","font":"Liberation Sans","fontWeight":"bold","fontSize":18,"color":"#231f20","align":"left","baseline":"alphabetic","clip":false},
   "encoding":{"x":{"datum":-0.1319,"axis":null},"y":{"field":"line","type":"quantitative","axis":null},"text":{"field":"text","type":"nominal"}}},
  {"data":{"values":[{"line":1,"text":"|"}]},"mark":{"type":"text","font":"Liberation Sans","fontSize":18,"color":"#231f20","align":"left","baseline":"alphabetic","clip":false},
   "encoding":{"x":{"datum":0.0394,"axis":null},"y":{"field":"line","type":"quantitative","axis":null},"text":{"field":"text","type":"nominal"}}},
  {"data":{"values":[{"line":1,"text":"(A)"}]},"mark":{"type":"text","font":"Liberation Sans","fontWeight":"bold","fontSize":18,"color":"#231f20","align":"left","baseline":"alphabetic","clip":false},
   "encoding":{"x":{"datum":0.0659,"axis":null},"y":{"field":"line","type":"quantitative","axis":null},"text":{"field":"text","type":"nominal"}}},
  {"data":{"values":[{"line":1,"text":"The HPLC spectrum of modified His6-MrsA (280 nm) shows"}]},"mark":{"type":"text","font":"Liberation Sans","fontSize":18,"color":"#2e2e2e","align":"left","baseline":"alphabetic","clip":false},
   "encoding":{"x":{"datum":0.1245,"axis":null},"y":{"field":"line","type":"quantitative","axis":null},"text":{"field":"text","type":"nominal"}}},
  {"data":{"values":[{"line":2,"text":"two distinctive peaks. The peak with the lower retention time (red) contains"},{"line":3,"text":"only partially modified His6-MrsA, which has no antimicrobial activity upon"}]},"mark":{"type":"text","font":"Liberation Sans","fontSize":18,"color":"#2e2e2e","align":"left","baseline":"alphabetic","clip":false},
   "encoding":{"x":{"datum":-0.1319,"axis":null},"y":{"field":"line","type":"quantitative","axis":null},"text":{"field":"text","type":"nominal"}}},
  {"data":{"values":[{"line":4,"text":"(Continued"}]},"mark":{"type":"text","font":"Liberation Sans","fontStyle":"italic","fontSize":18,"color":"#2e2e2e","align":"left","baseline":"alphabetic","clip":false},
   "encoding":{"x":{"datum":0.862,"axis":null},"y":{"field":"line","type":"quantitative","axis":null},"text":{"field":"text","type":"nominal"}}}
 ]}
]
}
